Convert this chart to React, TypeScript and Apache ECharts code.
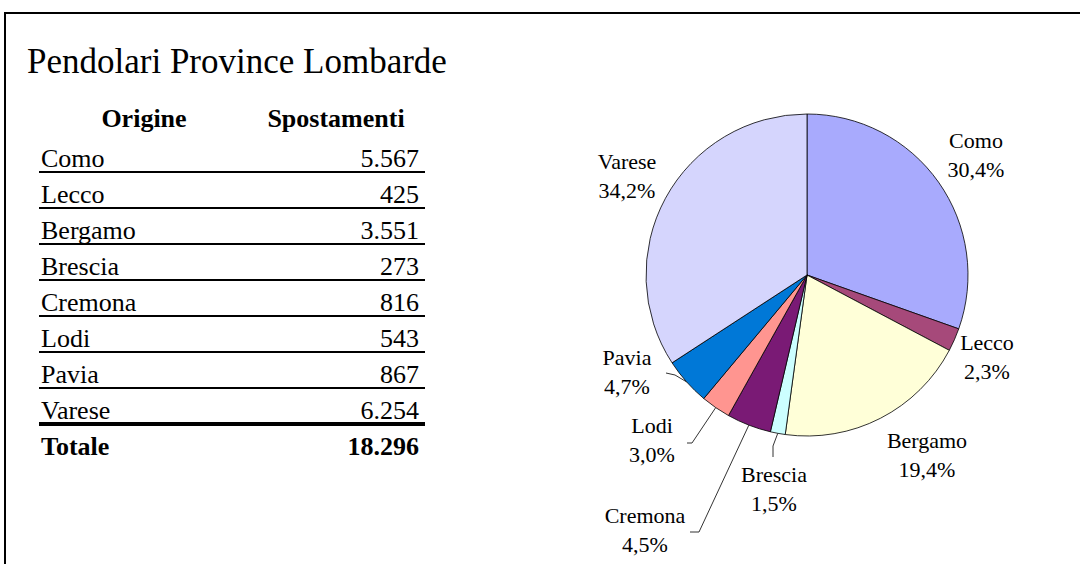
import React, { useEffect, useRef } from "react";
import * as echarts from "echarts";

// ---- data ----
const origins = ["Como", "Lecco", "Bergamo", "Brescia", "Cremona", "Lodi", "Pavia", "Varese"];
const trips = [5567, 425, 3551, 273, 816, 543, 867, 6254];
const sliceColors = ["#A8AAFD", "#A6497A", "#FFFFD8", "#CCFFFF", "#7A1A75", "#FF9590", "#0078D7", "#D5D5FD"];
const titleText = "Pendolari Province Lombarde";
const headerOrigin = "Origine";
const headerTrips = "Spostamenti";
const totalLabel = "Totale";

// ---- layout (not data) ----
const CX = 807;
const CY = 275;
const R = 161;
const FONT = "Liberation Serif";
// label centre offsets from pie centre; optional leader line [end, elbow] relative to label centre
const labelPlacement: { dx: number; dy: number; line?: number[][] }[] = [
  { dx: 169, dy: -120 },
  { dx: 180, dy: 82 },
  { dx: 120, dy: 180 },
  { dx: -33, dy: 214, line: [[-1, -32], [-1, -43]] },
  { dx: -162, dy: 255, line: [[45, 2], [54, 2]] },
  { dx: -155, dy: 165, line: [[35, 3], [40, 3]] },
  { dx: -180, dy: 97, line: [[39, 1], [48, 3]] },
  { dx: -180, dy: -99 },
];

const fmtThousands = (n: number) => String(n).replace(/\B(?=(\d{3})+(?!\d))/g, ".");

export default function App() {
  const ref = useRef<HTMLDivElement>(null);
  useEffect(() => {
    if (!ref.current) return;
    const chart = echarts.init(ref.current, null, { renderer: "svg" });
    const total = trips.reduce((a, b) => a + b, 0);
    const midAngles: number[] = [];
    let acc = 0;
    trips.forEach((v) => {
      midAngles.push(((acc + v / 2) / total) * 360);
      acc += v;
    });

    const graphics: any[] = [];
    graphics.push({
      type: "rect",
      shape: { x: 5, y: 13, width: 1300, height: 800 },
      style: { fill: "none", stroke: "#000", lineWidth: 2 },
      silent: true,
    });
    const bl = (size: number) => size * 0.3375; // baseline -> central offset
    graphics.push({
      type: "text",
      x: 27,
      y: 73 - bl(35),
      style: { text: titleText, fontFamily: FONT, fontSize: 35, fill: "#000", verticalAlign: "middle", align: "left" },
    });
    graphics.push({
      type: "text",
      x: 144,
      y: 127 - bl(26),
      style: { text: headerOrigin, fontFamily: FONT, fontSize: 26, fontWeight: "bold", fill: "#000", verticalAlign: "middle", align: "center" },
    });
    graphics.push({
      type: "text",
      x: 336,
      y: 127 - bl(26),
      style: { text: headerTrips, fontFamily: FONT, fontSize: 26, fontWeight: "bold", fill: "#000", verticalAlign: "middle", align: "center" },
    });
    origins.forEach((name, i) => {
      const base = 167 + i * 36;
      graphics.push({
        type: "text",
        x: 41,
        y: base - bl(26),
        style: { text: name, fontFamily: FONT, fontSize: 26, fill: "#000", verticalAlign: "middle", align: "left" },
      });
      graphics.push({
        type: "text",
        x: 419,
        y: base - bl(26),
        style: { text: fmtThousands(trips[i]), fontFamily: FONT, fontSize: 26, fill: "#000", verticalAlign: "middle", align: "right" },
      });
      const ly = 172 + i * 36;
      const last = i === origins.length - 1;
      graphics.push({
        type: "line",
        shape: { x1: 39, y1: ly, x2: 425, y2: ly },
        style: { stroke: "#000", lineWidth: last ? 4 : 2 },
      });
    });
    const totBase = 455;
    graphics.push({
      type: "text",
      x: 41,
      y: totBase - bl(26),
      style: { text: totalLabel, fontFamily: FONT, fontSize: 26, fontWeight: "bold", fill: "#000", verticalAlign: "middle", align: "left" },
    });
    graphics.push({
      type: "text",
      x: 419,
      y: totBase - bl(26),
      style: { text: fmtThousands(total), fontFamily: FONT, fontSize: 26, fontWeight: "bold", fill: "#000", verticalAlign: "middle", align: "right" },
    });

    chart.setOption({
      animation: false,
      backgroundColor: "#fff",
      graphic: graphics,
      series: [
        {
          type: "pie",
          center: [CX, CY],
          radius: R,
          startAngle: 90,
          clockwise: true,
          avoidLabelOverlap: false,
          silent: true,
          itemStyle: { borderColor: "#000", borderWidth: 0.8 },
          label: {
            show: true,
            position: "outside",
            fontFamily: FONT,
            fontSize: 22,
            lineHeight: 29,
            color: "#000",
            align: "center",
            formatter: (p: any) => p.name + "\n" + ((p.value / total) * 100).toFixed(1).replace(".", ",") + "%",
          },
          labelLine: { show: true, smooth: false, lineStyle: { color: "#333", width: 1 } },
          labelLayout: (params: any) => {
            const i = params.dataIndex;
            const p = labelPlacement[i];
            const lx = CX + p.dx;
            const ly = CY + p.dy;
            const res: any = { x: lx, y: ly, align: "center", verticalAlign: "middle", hideOverlap: false };
            if (p.line) {
              const a = (midAngles[i] * Math.PI) / 180;
              const sx = CX + R * Math.sin(a);
              const sy = CY - R * Math.cos(a);
              res.labelLinePoints = [
                [sx, sy],
                [lx + p.line[1][0], ly + p.line[1][1]],
                [lx + p.line[0][0], ly + p.line[0][1]],
              ];
            }
            return res;
          },
          data: origins.map((name, i) => ({
            name,
            value: trips[i],
            itemStyle: { color: sliceColors[i] },
            labelLine: { show: !!labelPlacement[i].line },
          })),
        },
      ],
    });
    return () => chart.dispose();
  }, []);
  return <div ref={ref} style={{ position: "absolute", left: 0, top: 0, width: 1080, height: 564 }} />;
}
